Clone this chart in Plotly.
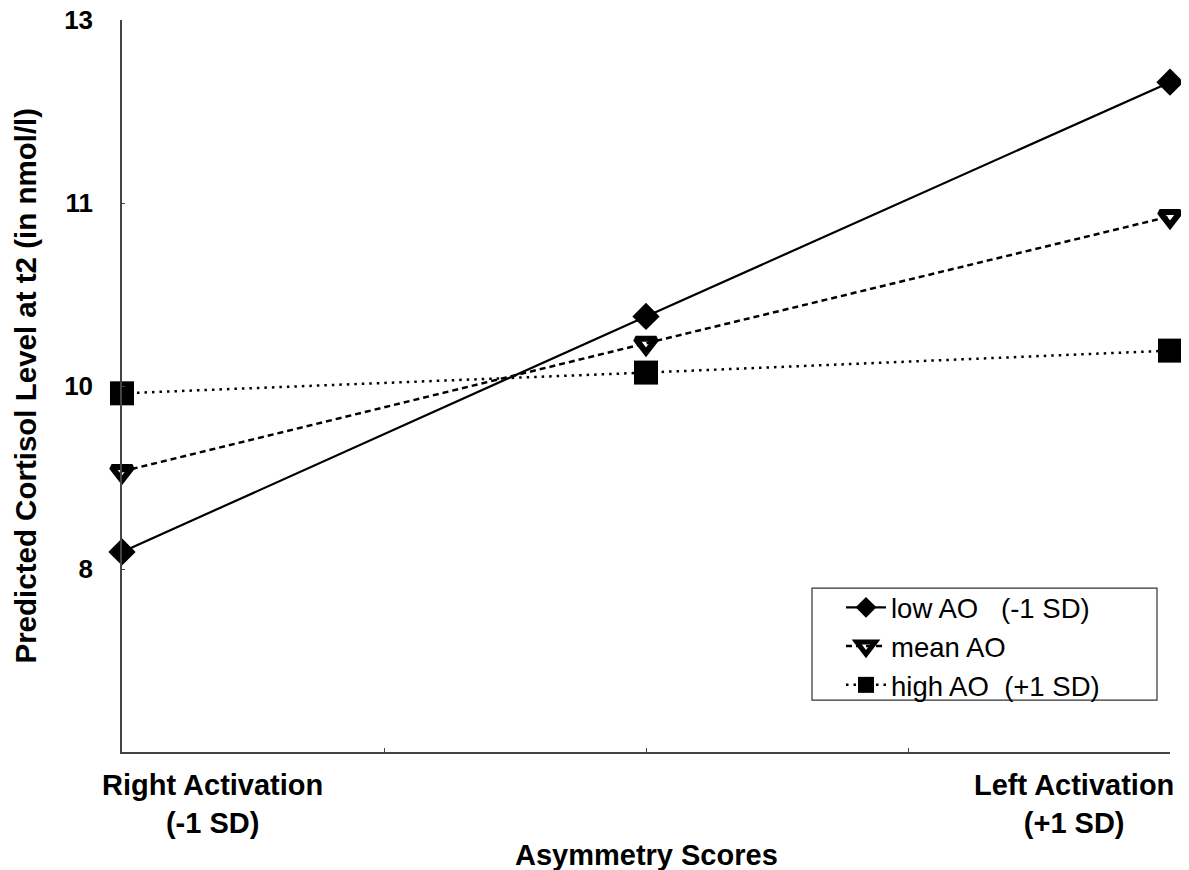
import plotly.graph_objects as go

# Data
x_positions = [-1, 0, 1]
low_ao = [8.64, 10.57, 12.49]
mean_ao = [9.30, 10.35, 11.39]
high_ao = [9.94, 10.11, 10.29]

series_names = ["low AO&nbsp;&nbsp;&nbsp;(-1 SD)", "mean AO", "high AO&nbsp;&nbsp;(+1 SD)"]

y_tickvals = [13, 11.5, 10, 8.5]
y_ticktext = ["13", "11", "10", "8"]
x_tickvals = [-1, -0.5, 0, 0.5, 1]
x_end_labels = ["Right Activation<br>(-1 SD)", "Left Activation<br>(+1 SD)"]
x_title = "Asymmetry Scores"
y_title = "Predicted Cortisol Level at t2 (in nmol/l)"

FONT = "Liberation Sans, Arial, sans-serif"

fig = go.Figure()
fig.add_trace(go.Scatter(
    x=x_positions, y=low_ao, name=series_names[0], mode="lines+markers",
    line=dict(color="black", width=2.2, dash="solid"),
    marker=dict(symbol="diamond", size=21, color="black"),
    cliponaxis=False))
fig.add_trace(go.Scatter(
    x=x_positions, y=mean_ao, name=series_names[1], mode="lines+markers",
    line=dict(color="black", width=2.5, dash="6px,4px"),
    marker=dict(symbol="triangle-down-open", size=18, color="black",
                line=dict(color="black", width=6)),
    cliponaxis=False))
fig.add_trace(go.Scatter(
    x=x_positions, y=high_ao, name=series_names[2], mode="lines+markers",
    line=dict(color="black", width=2.5, dash="2.5px,5px"),
    marker=dict(symbol="square", size=24, color="black"),
    cliponaxis=False))

annotations = [
    dict(text="<b>%s</b>" % x_end_labels[0], x=-0.828, y=-0.021, xref="x", yref="paper",
         xanchor="center", yanchor="top", showarrow=False, align="center",
         font=dict(size=29, family=FONT, color="black")),
    dict(text="<b>%s</b>" % x_end_labels[1], x=0.817, y=-0.021, xref="x", yref="paper",
         xanchor="center", yanchor="top", showarrow=False, align="center",
         font=dict(size=29, family=FONT, color="black")),
    dict(text="<b>%s</b>" % x_title, x=0.5, y=-0.1407, xref="paper", yref="paper",
         xanchor="center", yanchor="middle", showarrow=False,
         font=dict(size=29, family=FONT, color="black")),
    dict(text="<b>%s</b>" % y_title, x=-0.093, y=0.5, xref="paper", yref="paper",
         xanchor="center", yanchor="middle", showarrow=False, textangle=-90,
         borderpad=0,
         font=dict(size=29.5, family=FONT, color="black")),
]

shapes = [
    dict(type="rect", xref="paper", yref="paper", x0=0.6584, x1=0.9876, y0=0.0710, y1=0.2240,
         line=dict(color="#333", width=1.2), fillcolor="rgba(0,0,0,0)", layer="above"),
]

fig.update_layout(
    width=1189, height=870,
    margin=dict(l=114, r=27, t=12, b=126),
    paper_bgcolor="white", plot_bgcolor="white",
    font=dict(family=FONT, color="black"),
    showlegend=True,
    annotations=annotations,
    shapes=shapes,
    legend=dict(
        x=0.6584, y=0.2309, xanchor="left", yanchor="top",
        borderwidth=0, bgcolor="rgba(0,0,0,0)",
        font=dict(size=27.5, family=FONT, color="black"),
        itemwidth=40, indentation=29, tracegroupgap=0),
    xaxis=dict(
        range=[-1, 1], tickvals=x_tickvals, ticktext=["", "", "", "", ""],
        showgrid=False, zeroline=False, showline=True, linecolor="#444", linewidth=1.5,
        ticks="inside", ticklen=4, tickcolor="#444", automargin=False),
    yaxis=dict(
        range=[7, 13], tickvals=y_tickvals, ticktext=y_ticktext,
        showgrid=False, zeroline=False, showline=True, linecolor="#444", linewidth=1.5,
        ticks="inside", ticklen=3, tickcolor="#444", automargin=False,
        ticklabelstandoff=22, ticklabeloverflow="allow",
        tickfont=dict(size=26, family=FONT, weight="bold", color="black")),
)

fig.write_html("out.html")
